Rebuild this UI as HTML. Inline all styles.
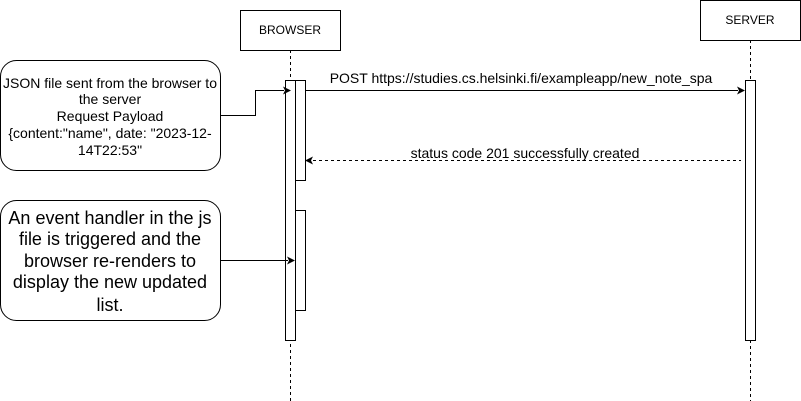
<!DOCTYPE html>
<html><head><meta charset="utf-8"><style>
html,body{margin:0;padding:0;background:#fff;width:801px;height:401px;overflow:hidden}
text{font-family:"Liberation Sans",Helvetica,Arial,sans-serif;fill:#000}
</style></head><body>
<svg width="801" height="401" viewBox="0 0 801 401" xmlns="http://www.w3.org/2000/svg">
<g stroke="#000" stroke-width="1" fill="none">
<line x1="290.5" y1="50" x2="290.5" y2="401" stroke-dasharray="3,3"/>
<line x1="750.5" y1="40" x2="750.5" y2="401" stroke-dasharray="3,3"/>
<rect x="240.5" y="10.5" width="100" height="40" fill="#fff"/>
<rect x="700.5" y="0.5" width="100" height="40" fill="#fff"/>
<rect x="285.5" y="80.5" width="10" height="260" fill="#fff"/>
<rect x="295.5" y="80.5" width="10" height="100" fill="#fff"/>
<rect x="295.5" y="210.5" width="10" height="100" fill="#fff"/>
<rect x="745.5" y="80.5" width="10" height="260" fill="#fff"/>
<rect x="0.5" y="60.5" width="220" height="110" rx="16" fill="#fff"/>
<rect x="0.5" y="200.5" width="220" height="120" rx="16" fill="#fff"/>
<polyline points="221,115.5 255.5,115.5 255.5,90.5 284,90.5"/>
<line x1="221" y1="260.5" x2="288" y2="260.5"/>
<line x1="305" y1="90.5" x2="738" y2="90.5"/>
<line x1="313" y1="160.5" x2="741" y2="160.5" stroke-dasharray="3,3"/>
</g>
<g fill="#000">
<path d="M291,90.5 L283,86.5 L285,90.5 L283,94.5 Z"/>
<path d="M295,260.5 L287,256.5 L289,260.5 L287,264.5 Z"/>
<path d="M745,90.5 L737,86.5 L739,90.5 L737,94.5 Z"/>
<path d="M305,160.5 L313,156.5 L311,160.5 L313,164.5 Z"/>
</g>
<text x="290" y="34" font-size="12" text-anchor="middle">BROWSER</text>
<text x="750" y="24" font-size="12" text-anchor="middle">SERVER</text>
<text x="521" y="83" font-size="14" text-anchor="middle">POST https://studies.cs.helsinki.fi/exampleapp/new_note_spa</text>
<text x="525" y="158" font-size="14" text-anchor="middle">status code 201 successfully created</text>
<g font-size="14" text-anchor="middle">
<text x="110" y="88">JSON file sent from the browser to</text>
<text x="110" y="104">the server</text>
<text x="110" y="121">Request Payload</text>
<text x="110" y="138">{content:"name", date: "2023-12-</text>
<text x="110" y="155">14T22:53"</text>
</g>
<g font-size="18" text-anchor="middle">
<text x="110" y="224">An event handler in the js</text>
<text x="110" y="245">file is triggered and the</text>
<text x="110" y="267">browser re-renders to</text>
<text x="110" y="288">display the new updated</text>
<text x="110" y="311">list.</text>
</g>
</svg>
</body></html>
